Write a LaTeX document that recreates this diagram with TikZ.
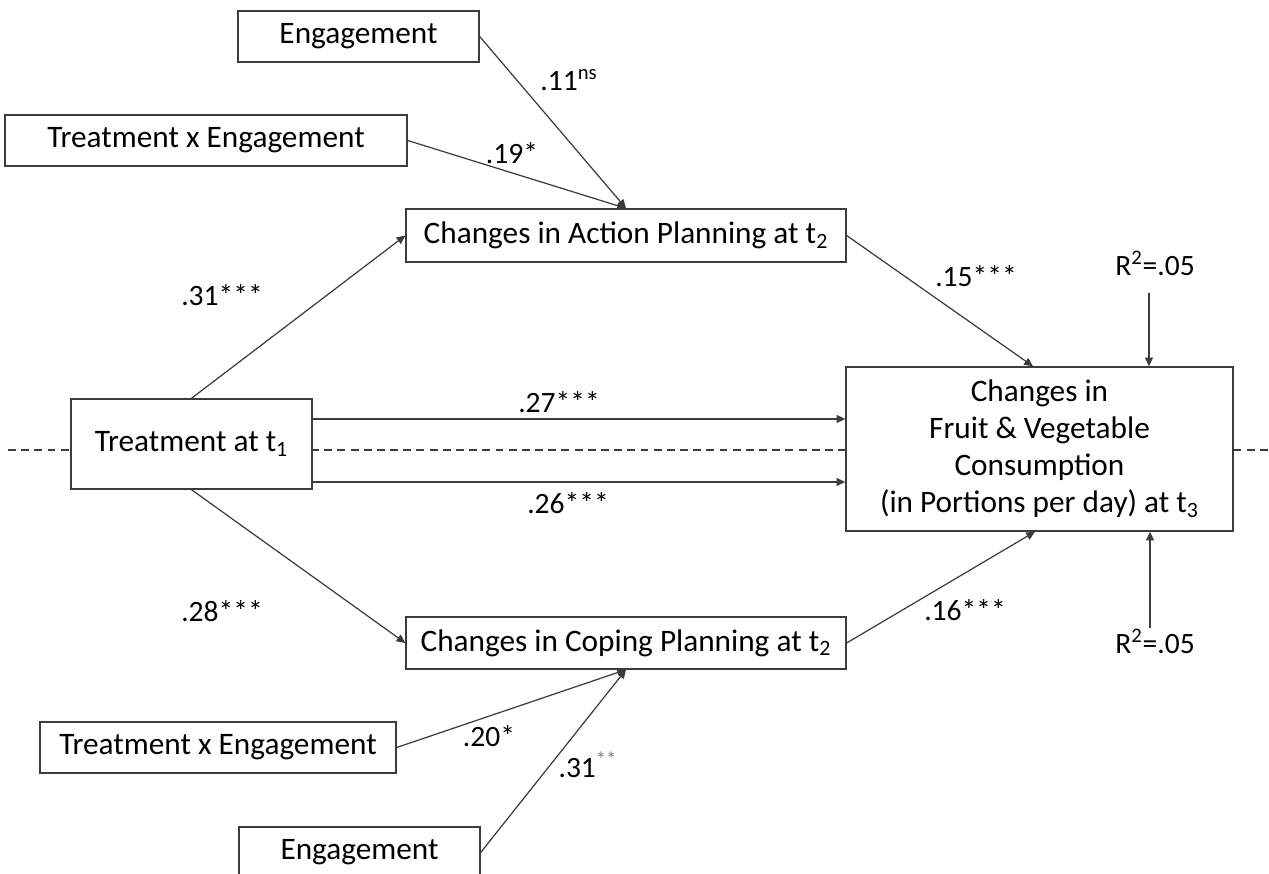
\documentclass[tikz,border=0pt]{standalone}
\usepackage{fontspec}
\setmainfont{Carlito}
\usetikzlibrary{arrows.meta}
\definecolor{pathgray}{RGB}{60,60,60}
\definecolor{stargray}{RGB}{120,120,120}

\begin{document}
\begin{tikzpicture}[x=0.02cm, y=-0.02cm,
  box/.style={draw=pathgray, line width=0.8pt, fill=white, inner sep=0pt, align=center,
    font=\fontsize{17.8}{21}\selectfont},
  link/.style={draw=pathgray, line width=0.7pt, -{Triangle[length=5pt,width=4.5pt]}},
  coef/.style={anchor=base, inner sep=0pt, font=\fontsize{16.8}{18}\selectfont}]
\useasboundingbox (0,0) rectangle (1269,874);

% Dashed middle line
\coordinate (midL) at (8,450);
\coordinate (midR) at (1269,450);
\draw[pathgray, line width=0.7pt, dash pattern=on 4.5pt off 3pt] (midL) -- (midR);

% Moderators (top)
\node[box, minimum width=4.82cm, minimum height=1.02cm] (engtop) at (358.5,36.5) {Engagement};
\node[box, minimum width=8.04cm, minimum height=1.02cm] (txetop) at (206,140.5) {Treatment x Engagement};

% Mediators
\node[box, minimum width=8.8cm, minimum height=1.06cm] (action) at (626,235.5) {Changes in Action Planning at t\textsubscript{2}};
\node[box, minimum width=8.8cm, minimum height=1.04cm] (coping) at (626,643) {Changes in Coping Planning at t\textsubscript{2}};

% Predictor and outcome
\node[box, minimum width=4.82cm, minimum height=1.8cm] (treat) at (191.5,444) {Treatment at t\textsubscript{1}};
\node[box, minimum width=7.74cm, minimum height=3.28cm] (outcome) at (1039.5,449)
  {Changes in\\Fruit \& Vegetable\\Consumption\\(in Portions per day) at t\textsubscript{3}};

% Moderators (bottom)
\node[box, minimum width=7.12cm, minimum height=1.02cm] (txebot) at (218,747.5) {Treatment x Engagement};
\node[box, minimum width=4.82cm, minimum height=1.02cm] (engbot) at (359.5,852.5) {Engagement};

% Paths
\draw[link] (engtop.east) -- (action.north);
\draw[link] (txetop.east) -- (action.north);
\draw[link] (treat.north) -- (action.west);
\draw[link] (treat.south) -- (coping.west);
\draw[link] ([yshift=0.5cm]treat.east) -- ([yshift=0.5cm]treat.east -| outcome.west);
\draw[link] ([yshift=-0.76cm]treat.east) -- ([yshift=-0.76cm]treat.east -| outcome.west);
\draw[link] (action.east) -- ([xshift=-0.13cm]outcome.north);
\draw[link] (coping.east) -- ([xshift=-0.09cm]outcome.south);
\draw[link] (txebot.east) -- (coping.south);
\draw[link] (engbot.east) -- (coping.south);

% Residuals
\coordinate (r2up) at (1149,293);
\coordinate (r2down) at (1150,628);
\draw[link] (r2up) -- (r2up |- outcome.north);
\draw[link] (r2down) -- (r2down |- outcome.south);
\node[coef] (r2a) at (1155,276) {R\textsuperscript{2}=.05};
\node[coef] (r2b) at (1155,654) {R\textsuperscript{2}=.05};

% Coefficients
\node[coef] (c11) at (569,91) {.11\textsuperscript{ns}};
\node[coef] (c19) at (512,164) {.19*};
\node[coef] (c31a) at (222,306) {.31***};
\node[coef] (c15) at (976,287) {.15***};
\node[coef] (c27) at (559,413) {.27***};
\node[coef] (c26) at (568,514) {.26***};
\node[coef] (c28) at (222,622) {.28***};
\node[coef] (c16) at (965,621) {.16***};
\node[coef] (c20) at (489,747) {.20*};
\node[coef] (c31b) at (588,778) {.31\textcolor{stargray}{\textsuperscript{**}}};
\end{tikzpicture}
\end{document}
